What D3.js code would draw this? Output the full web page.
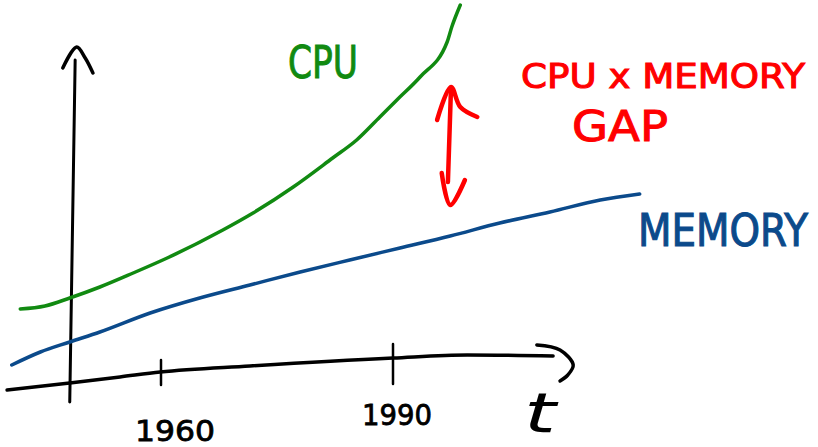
<!DOCTYPE html>
<html>
<head>
<meta charset="utf-8">
<script src="https://cdn.jsdelivr.net/npm/d3@7"></script>
<style>
  body { margin: 0; background: #fff; }
  svg { display: block; }
</style>
</head>
<body>
<div id="sketch"></div>
<script>
// values: year vs. relative performance (0-100)
var cpuYears    = [1941.8, 1945.0, 1948.2, 1952.1, 1956.4, 1960.8, 1968.0, 1971.9, 1977.1, 1982.2, 1985.3, 1988.3, 1990.5, 1993.5, 1997.0, 1997.6, 1998.7];
var cpuValues   = [22.75, 23.5, 25.5, 28.25, 31.75, 35.5, 42.5, 46.75, 53.25, 60.5, 65, 70.75, 75, 80.75, 89.5, 93.25, 98.75];

var memYears    = [1940.7, 1944.4, 1948.2, 1952.1, 1958.6, 1965.0, 1971.5, 1978.0, 1984.4, 1990.9, 1997.4, 2003.8, 2010.3, 2016.8, 2021.9];
var memValues   = [8.75, 12, 14.5, 17, 21.75, 25.5, 28.75, 32, 35, 38, 41, 44.25, 47, 50, 51.5];

// the hand drawn time axis (it wobbles upwards a little)
var axisYears   = [1940.1, 1948.2, 1954.7, 1959.9, 1971.5, 1990.0, 1999.6, 2010.7];
var axisValues  = [2.5, 4.25, 5.75, 7, 8.5, 10.5, 11.25, 11];
var axisHeadYears  = [2008.6, 2011.6, 2013.3, 2012.6, 2011.6];
var axisHeadValues = [13.75, 12.5, 8.75, 6.25, 4.75];

// the vertical axis and its "^" head
var vAxisYears  = [1948.2, 1948.9];
var vAxisValues = [-0.5, 85];
var vHeadYears  = [1947.3, 1949.1, 1950.2, 1951.2];
var vHeadValues = [83, 88.25, 85.5, 81.75];

// red double arrow showing the gap
var gapYears    = [1997.5, 1997.1];
var gapValues   = [78, 54.5];
var gapUpYears  = [1995.7, 1997.5, 1998.7, 2000.9];
var gapUpValues = [70, 78.25, 73.25, 70.75];
var gapDnYears  = [1996.3, 1997.4, 1999.3];
var gapDnValues = [56.75, 48.75, 55];

var tickYears   = [1960, 1990];
var tickLabels  = ["1960", "1990"];

var width = 818, height = 447;

var svg = d3.select("#sketch")
  .append("svg")
    .attr("width", width)
    .attr("height", height);

// scales
var x = d3.scaleLinear()
  .domain([1960, 1990])
  .range([161, 393]);

var y = d3.scaleLinear()
  .domain([0, 100])
  .range([400, 0]);

function pts(xs, ys) {
  return xs.map(function(d, i) { return [d, ys[i]]; });
}

var smooth = d3.line()
  .x(function(d) { return x(d[0]); })
  .y(function(d) { return y(d[1]); })
  .curve(d3.curveCatmullRom.alpha(0.5));

var monotone = d3.line()
  .x(function(d) { return x(d[0]); })
  .y(function(d) { return y(d[1]); })
  .curve(d3.curveMonotoneX);

function stroke(data, color, w, gen) {
  return svg.append("path")
    .datum(data)
    .attr("d", gen || smooth)
    .attr("fill", "none")
    .attr("stroke", color)
    .attr("stroke-width", w)
    .attr("stroke-linecap", "round")
    .attr("stroke-linejoin", "round");
}

// axes
stroke(pts(axisYears, axisValues), "#000", 3.5, monotone);
stroke(pts(axisHeadYears, axisHeadValues), "#000", 3.5);
stroke(pts(vAxisYears, vAxisValues), "#000", 3);
stroke(pts(vHeadYears, vHeadValues), "#000", 3.5);

// ticks on the time axis
var tickBaseline = d3.scaleLinear().domain(axisYears).range(axisValues);
svg.selectAll("line.tick")
  .data(tickYears)
  .enter()
  .append("line")
    .attr("class", "tick")
    .attr("x1", function(d) { return x(d); })
    .attr("x2", function(d) { return x(d); })
    .attr("y1", function(d, i) { return y(tickBaseline(d)) - (i ? 14 : 12); })
    .attr("y2", function(d, i) { return y(tickBaseline(d)) + (i ? 26 : 13); })
    .attr("stroke", "#000")
    .attr("stroke-width", 2.5)
    .attr("stroke-linecap", "round");

svg.selectAll("text.tick")
  .data(tickLabels)
  .enter()
  .append("text")
    .attr("class", "tick")
    .attr("x", function(d, i) { return x(tickYears[i]) + (i ? 4 : 14); })
    .attr("y", function(d, i) { return i ? 425 : 441; })
    .attr("text-anchor", "middle")
    .attr("font-family", "DejaVu Sans")
    .attr("font-size", 29)
    .attr("textLength", function(d, i) { return i ? 70 : 80; })
    .attr("lengthAdjust", "spacingAndGlyphs")
    .attr("fill", "#000")
    .attr("stroke", "#000")
    .attr("stroke-width", 0.8)
    .text(function(d) { return d; });

// the two curves
stroke(pts(cpuYears, cpuValues), "#118a11", 3.5, monotone);
stroke(pts(memYears, memValues), "#0b4a8b", 3.5, monotone);

// gap arrow
stroke(pts(gapYears, gapValues), "#ff0000", 4.5);
stroke(pts(gapUpYears, gapUpValues), "#ff0000", 4.5);
stroke(pts(gapDnYears, gapDnValues), "#ff0000", 4.5);

// labels
function label(txt, px, py, size, len, color, family, style, sw) {
  svg.append("text")
    .attr("x", px)
    .attr("y", py)
    .attr("font-family", family || "DejaVu Sans")
    .attr("font-style", style || "normal")
    .attr("font-size", size)
    .attr("textLength", len)
    .attr("lengthAdjust", "spacingAndGlyphs")
    .attr("fill", color)
    .attr("stroke", color)
    .attr("stroke-width", sw === undefined ? 1 : sw)
    .text(txt);
}

label("CPU", 288, 78, 44, 70, "#118a11");
label("CPU x MEMORY", 521, 88, 34, 284, "#ff0000", "DejaVu Sans Condensed");
label("GAP", 572, 141, 42, 96, "#ff0000");
label("MEMORY", 638, 246, 44, 170, "#0b4a8b", "DejaVu Sans Condensed");
label("t", 524, 432, 56, 32, "#000", "DejaVu Sans", "italic", 0);
</script>
</body>
</html>
